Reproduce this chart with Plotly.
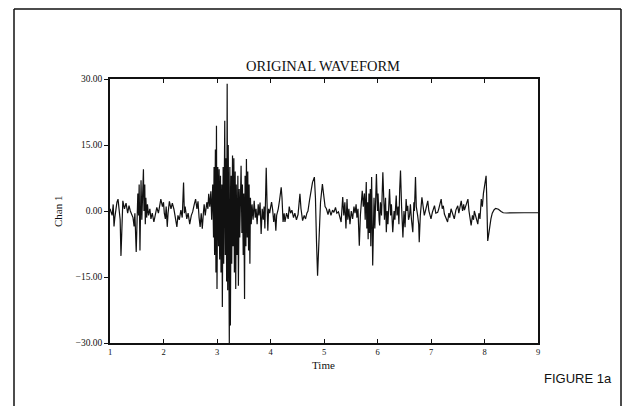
import plotly.graph_objects as go

# ---- data (time, Chan 1) ----
t_seg1 = [1.00, 1.04, 1.06, 1.075, 1.09, 1.11, 1.13, 1.15, 1.17, 1.19, 1.205, 1.22, 1.24, 1.27, 1.30, 1.33,
          1.355, 1.38, 1.41, 1.43, 1.45, 1.465, 1.49, 1.50, 1.52, 1.535, 1.545, 1.56, 1.57, 1.58, 1.595,
          1.61, 1.625, 1.635, 1.65, 1.66, 1.67, 1.685, 1.70, 1.72, 1.745, 1.765, 1.79, 1.82, 1.845, 1.875,
          1.905, 1.93, 1.95, 1.98]
v_seg1 = [0.5, -1.0, 1.5, -3.5, -1.5, 0.8, 2.0, 2.7, 0.5, -2.0, -10.2, -2.0, 2.3, 0.5, 1.8, -0.5,
          1.2, 0.0, -0.8, -1.5, -3.5, -0.5, -9.3, -2.0, 4.0, -1.0, 6.0, -9.0, 3.0, 7.0, -2.0,
          5.0, 9.5, 0.0, 6.0, -3.0, 3.0, -1.5, 1.5, -1.0, 0.5, -1.8, -0.5, -2.5, -0.5, 0.8,
          -0.5, 1.5, 2.7, 1.0]

t_seg2 = [2.00, 2.015, 2.035, 2.05, 2.07, 2.085, 2.11, 2.14, 2.165, 2.195, 2.22, 2.25, 2.27, 2.295, 2.325,
          2.35, 2.375, 2.39, 2.405, 2.435, 2.46, 2.49, 2.52, 2.545, 2.575, 2.60, 2.625, 2.645, 2.665,
          2.685, 2.705, 2.725, 2.745, 2.76, 2.78, 2.81, 2.83, 2.845, 2.865, 2.885, 2.90, 2.92, 2.935,
          2.945, 2.955, 2.97, 2.98, 2.99]
v_seg2 = [2.0, -0.5, -1.8, 1.0, -3.6, -0.5, 2.2, 0.5, 1.8, 0.4, -1.2, -3.6, -1.0, -2.0, 0.2,
          -1.5, 6.5, -0.5, 1.0, -1.8, -0.5, -3.0, -1.0, -0.2, 1.5, 2.7, 0.5, 2.2, -1.5,
          -3.6, -0.5, -4.0, -0.5, 1.5, -1.0, 2.0, 0.5, 3.9, 1.0, 4.5, -2.0, 6.0, -6.0,
          10.0, -10.0, 14.0, -14.0, 19.4]

t_seg3 = [3.00, 3.015, 3.03, 3.04, 3.05, 3.065, 3.075, 3.09, 3.10, 3.115, 3.125, 3.135, 3.145, 3.155, 3.17,
          3.18, 3.19, 3.20, 3.21, 3.23, 3.24, 3.25, 3.265, 3.275, 3.29, 3.30, 3.315, 3.325, 3.34, 3.35,
          3.36, 3.375, 3.39, 3.40, 3.415, 3.425, 3.44, 3.45, 3.465, 3.475, 3.49, 3.50, 3.515, 3.525,
          3.54, 3.55, 3.565, 3.575, 3.59, 3.60, 3.615, 3.625, 3.64, 3.655, 3.675, 3.695, 3.715, 3.73,
          3.75, 3.77, 3.785, 3.805, 3.825, 3.845, 3.865, 3.88, 3.895, 3.92, 3.935, 3.95, 3.965, 3.985]
v_seg3 = [-17.7, 10.0, -8.0, 9.5, -11.0, 8.0, -14.0, 6.0, -21.8, 10.0, -12.0, 16.0, 20.5, -10.0, 12.0,
          -16.0, 28.9, -18.0, 15.0, -30.0, 10.0, -26.0, 8.0, -12.0, 12.6, -8.0, 12.0, -14.0, 9.0, -17.7,
          6.0, -10.0, 8.0, -17.0, 5.0, -6.0, 9.0, 10.3, -5.0, 6.0, -10.0, 4.0, -20.0, 8.0,
          -8.0, 11.8, -6.0, 9.0, -9.0, 6.0, -12.0, 3.0, -3.0, 1.5, -2.0, 2.3, -1.5, 0.5,
          -3.0, 1.5, -1.0, 1.9, -5.2, 0.5, -2.0, 1.0, -4.0, 9.8, 2.0, -4.5, 0.5, -0.5]

t_seg4 = [4.00, 4.02, 4.04, 4.06, 4.08, 4.10, 4.115, 4.145, 4.17, 4.20, 4.215, 4.235, 4.255, 4.27, 4.30,
          4.33, 4.35, 4.375, 4.40, 4.43, 4.455, 4.485, 4.515, 4.55, 4.57, 4.60, 4.63, 4.655, 4.68,
          4.70, 4.73, 4.76, 4.785, 4.82, 4.84, 4.86, 4.88, 4.895, 4.915, 4.935, 4.97]
v_seg4 = [0.7, 2.0, 0.3, -2.5, -0.5, -4.5, -1.0, 0.5, 2.5, 5.4, 3.0, -2.5, -0.5, -2.5, -0.5,
          -1.8, 1.0, -0.5, 0.2, -1.5, -0.5, -2.0, -0.8, 3.9, 0.5, -2.2, -1.0, -1.8, -0.5,
          0.0, 2.5, 5.4, 6.5, 7.7, 3.0, -7.0, -14.7, -10.0, -2.0, 2.0, 6.1]

t_seg5 = [5.00, 5.02, 5.045, 5.075, 5.10, 5.13, 5.16, 5.185, 5.215, 5.24, 5.27, 5.29, 5.32, 5.35, 5.37,
          5.39, 5.41, 5.43, 5.445, 5.465, 5.485, 5.51, 5.535, 5.56, 5.58, 5.60, 5.615, 5.635, 5.65,
          5.66, 5.68, 5.70, 5.715, 5.735, 5.755, 5.77, 5.79, 5.80, 5.815, 5.825, 5.84, 5.85, 5.865,
          5.875, 5.89, 5.91, 5.92, 5.935, 5.95, 5.965, 5.98]
v_seg5 = [3.5, 1.0, 0.5, -0.8, 0.5, -1.0, 0.2, -0.3, 0.8, -0.5, -0.2, -1.0, -2.5, 3.2, -1.0,
          2.0, -4.0, 2.7, -2.0, 0.5, -3.0, 0.0, -1.8, 1.0, -0.5, 1.5, -1.5, 0.5, -3.0,
          -7.9, -1.0, 3.0, 4.6, 1.0, 4.0, -2.0, 6.6, -4.0, 2.0, -6.4, 4.0, -5.0, 5.0,
          -8.0, 7.7, -12.4, -3.0, 3.0, -4.0, 5.0, 8.4]

t_seg6 = [6.00, 6.01, 6.03, 6.04, 6.055, 6.075, 6.10, 6.115, 6.13, 6.15, 6.165, 6.18, 6.195, 6.225, 6.245,
          6.26, 6.285, 6.31, 6.325, 6.35, 6.365, 6.385, 6.40, 6.415, 6.43, 6.45, 6.465, 6.475, 6.495,
          6.515, 6.535, 6.55, 6.565, 6.58, 6.60, 6.615, 6.635, 6.66, 6.68, 6.69, 6.71, 6.725, 6.75,
          6.77, 6.78, 6.80, 6.83, 6.85, 6.875, 6.905, 6.94, 6.96, 6.99]
v_seg6 = [0.0, 4.0, -2.0, -3.3, 2.0, -1.0, 8.8, 1.0, -2.0, 3.0, -4.8, 0.0, -3.0, 5.0, -1.0,
          1.5, -4.8, 0.0, -2.0, 3.5, -1.0, 1.0, -3.0, 5.0, 9.2, 1.0, -3.0, -6.0, 0.0,
          -3.7, 2.7, 0.0, 1.2, -2.0, -1.0, 1.5, -2.0, -4.8, 2.0, 0.0, 7.7, 1.0, -1.0,
          -3.0, -7.1, -1.0, 3.1, 1.0, -1.0, 0.5, 2.3, 0.0, -1.2]

t_seg7 = [7.00, 7.025, 7.045, 7.065, 7.09, 7.125, 7.145, 7.165, 7.19, 7.21, 7.23, 7.25, 7.28, 7.31, 7.335,
          7.35, 7.375, 7.40, 7.435, 7.465, 7.50, 7.52, 7.54, 7.565, 7.59, 7.61, 7.625, 7.655, 7.69,
          7.71, 7.73, 7.75, 7.775, 7.795, 7.81, 7.84, 7.875, 7.895, 7.915, 7.94, 7.96, 7.98]
v_seg7 = [-1.8, -0.3, 0.8, 1.2, -0.5, -0.3, 0.5, 1.5, 2.7, 0.5, 1.2, -0.7, -1.5, -2.5, -0.5,
          -1.5, 0.5, -0.5, -1.8, 0.2, 1.2, -0.5, 1.0, 2.3, 0.0, 1.5, 0.2, 1.5, 2.7,
          0.0, -1.5, -3.3, -1.0, -2.0, 0.0, -1.5, -3.0, -0.5, -1.8, 2.7, 1.0, 4.0]

t_seg8 = [8.00, 8.015, 8.03, 8.04, 8.05, 8.06, 8.07, 8.09, 8.12, 8.145, 8.18, 8.21, 8.26, 8.31, 8.35,
          8.41, 8.50, 8.74, 8.99, 9.00]
v_seg8 = [5.8, 6.5, 8.0, 4.0, -3.0, -6.8, -6.0, -4.0, -1.8, -0.5, 0.3, 0.6, 0.4, -0.1, -0.4,
          -0.45, -0.4, -0.4, -0.4, -0.4]

time = t_seg1 + t_seg2 + t_seg3 + t_seg4 + t_seg5 + t_seg6 + t_seg7 + t_seg8
chan1 = v_seg1 + v_seg2 + v_seg3 + v_seg4 + v_seg5 + v_seg6 + v_seg7 + v_seg8

x_ticks = [1, 2, 3, 4, 5, 6, 7, 8, 9]
y_ticks = [-30, -15, 0, 15, 30]
y_ticktext = ["\u221230.00", "\u221215.00", "0.00", "15.00", "30.00"]

SERIF = "Liberation Serif, Times New Roman, serif"
SANS = "Liberation Sans, Arial, sans-serif"
INK = "#111111"

fig = go.Figure()
fig.add_trace(go.Scatter(x=time, y=chan1, mode="lines",
                         line=dict(color=INK, width=1.2), hoverinfo="skip"))

W, H = 626, 406
L, R, T, B = 110, 538, 79, 343   # plot area in pixels

def px_x(px):
    return (px - L) / (R - L)

def px_y(py):
    return (B - py) / (B - T)

fig.update_layout(
    width=W, height=H,
    margin=dict(l=L, r=W - R, t=T, b=H - B),
    paper_bgcolor="white", plot_bgcolor="white",
    showlegend=False,
    font=dict(family=SERIF, color=INK),
)
fig.update_xaxes(range=[1, 9], tickvals=x_ticks, ticktext=[str(v) for v in x_ticks],
                 showgrid=False, zeroline=False, showline=True, linecolor=INK, linewidth=1.5,
                 mirror="ticks", ticks="inside", ticklen=4, tickcolor=INK,
                 tickfont=dict(size=8.5, family=SERIF, color=INK))
fig.update_yaxes(range=[-30, 30], tickvals=y_ticks, ticktext=y_ticktext,
                 showgrid=False, zeroline=False, showline=True, linecolor=INK, linewidth=1.5,
                 mirror=True, ticks="outside", ticklen=4, tickcolor=INK,
                 tickfont=dict(size=9.5, family=SERIF, color=INK))

fig.add_annotation(text="ORIGINAL WAVEFORM", xref="paper", yref="paper",
                   x=px_x(323), y=px_y(56), showarrow=False,
                   font=dict(size=14.5, family=SERIF, color=INK))
fig.add_annotation(text="Time", xref="paper", yref="paper",
                   x=px_x(323), y=px_y(373), showarrow=False,
                   font=dict(size=11, family=SERIF, color=INK))
fig.add_annotation(text="Chan 1", xref="paper", yref="paper",
                   x=px_x(58), y=px_y(212), xanchor="center", showarrow=False, textangle=-90,
                   font=dict(size=11, family=SERIF, color=INK))
fig.add_annotation(text="FIGURE 1a", xref="paper", yref="paper",
                   x=px_x(614), y=px_y(388), xanchor="right", showarrow=False,
                   font=dict(size=13, family=SANS, color=INK))

# outer frame (top, left, right edges of the page box)
frame = dict(color=INK, width=1.5)
fig.add_shape(type="line", xref="paper", yref="paper", x0=px_x(14), x1=px_x(621), y0=px_y(9), y1=px_y(9), line=frame)
fig.add_shape(type="line", xref="paper", yref="paper", x0=px_x(14), x1=px_x(14), y0=px_y(9), y1=px_y(410), line=frame)
fig.add_shape(type="line", xref="paper", yref="paper", x0=px_x(621), x1=px_x(621), y0=px_y(9), y1=px_y(410), line=frame)

fig.write_html("out.html", config={"displayModeBar": False},
               post_script="document.body.style.margin='0px';")
